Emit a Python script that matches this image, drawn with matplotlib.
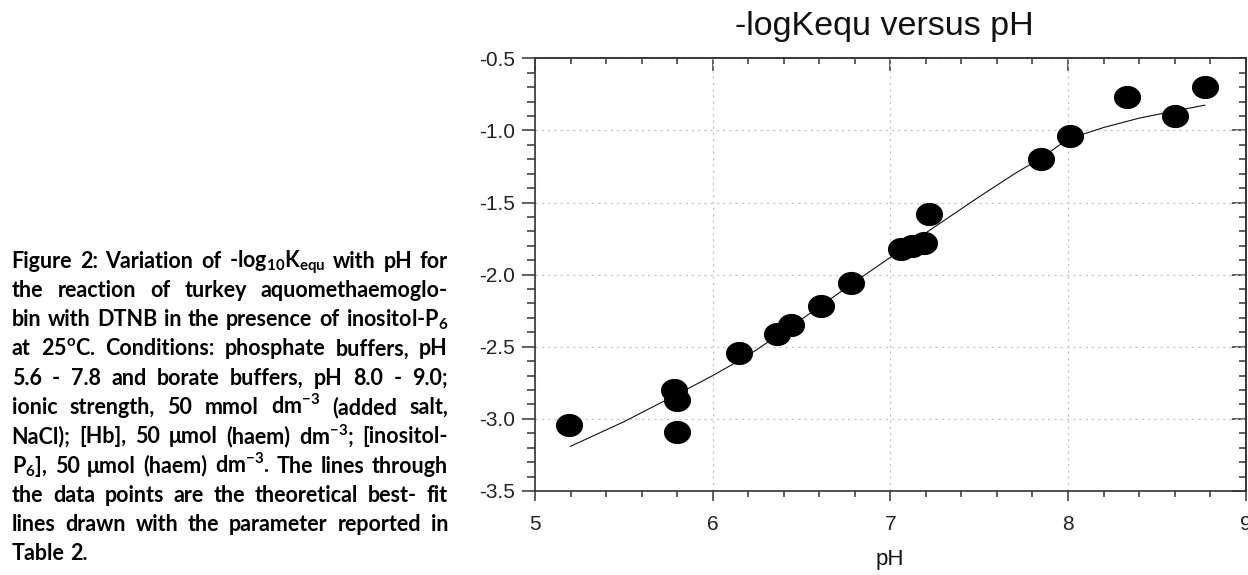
import numpy as np
import matplotlib
matplotlib.use("Agg")
import matplotlib.pyplot as plt
from matplotlib.path import Path
from matplotlib.ticker import MultipleLocator
from matplotlib import font_manager

# ---------------- data ----------------
ph_points = [5.19, 5.78, 5.80, 5.80, 6.15, 6.36, 6.44, 6.61, 6.78,
             7.06, 7.12, 7.19, 7.22, 7.85, 8.01, 8.33, 8.60, 8.77]
logk_points = [-3.04, -2.80, -2.87, -3.09, -2.54, -2.41, -2.35, -2.22, -2.06,
               -1.82, -1.80, -1.78, -1.58, -1.20, -1.04, -0.77, -0.90, -0.70]

ph_fit = [5.20, 5.50, 5.80, 6.00, 6.20, 6.50, 6.80, 7.00, 7.20, 7.50,
          7.70, 7.85, 8.00, 8.20, 8.40, 8.60, 8.77]
logk_fit = [-3.19, -3.02, -2.83, -2.70, -2.56, -2.31, -2.05, -1.88, -1.71, -1.46,
            -1.30, -1.19, -1.06, -0.98, -0.915, -0.865, -0.825]

title = "-logKequ versus pH"
xlabel = "pH"
xticks = [5, 6, 7, 8, 9]
yticks = [-3.5, -3.0, -2.5, -2.0, -1.5, -1.0, -0.5]

caption_lines = [
    r"Figure 2: Variation of -log$_{\mathrm{10}}$K$_{\mathrm{equ}}$ with pH for",
    r"the reaction of turkey aquomethaemoglo-",
    r"bin with DTNB in the presence of inositol-P$_{\mathrm{6}}$",
    r"at 25$^{\mathrm{o}}$C. Conditions: phosphate buffers, pH",
    r"5.6 - 7.8 and borate buffers, pH 8.0 - 9.0;",
    r"ionic strength, 50 mmol dm$^{\mathrm{-3}}$ (added salt,",
    r"NaCl); [Hb], 50 μmol (haem) dm$^{\mathrm{-3}}$; [inositol-",
    r"P$_{\mathrm{6}}$], 50 μmol (haem) dm$^{\mathrm{-3}}$. The lines through",
    r"the data points are the theoretical best- fit",
    r"lines drawn with the parameter reported in",
    r"Table 2.",
]

# ---------------- fonts ----------------
available = {f.name for f in font_manager.fontManager.ttflist}
cap_font = 'Liberation Sans Narrow' if 'Liberation Sans Narrow' in available else 'Lato'
cap_family = [cap_font, 'DejaVu Sans']

plt.rcParams['font.family'] = ['Liberation Sans', 'DejaVu Sans']
plt.rcParams['mathtext.fontset'] = 'custom'
plt.rcParams['mathtext.rm'] = cap_font + ':bold'
plt.rcParams['mathtext.it'] = cap_font + ':bold'
plt.rcParams['mathtext.bf'] = cap_font + ':bold'

W, H = 1248, 575
fig = plt.figure(figsize=(W / 100, H / 100), dpi=100)
fig.patch.set_facecolor('white')

ax_l, ax_r, ax_t, ax_b = 535, 1245.7, 58.3, 491.0
ax = fig.add_axes([ax_l / W, 1 - ax_b / H, (ax_r - ax_l) / W, (ax_b - ax_t) / H])

# elliptical marker (slightly wider than tall, like the reference)
theta = np.linspace(0, 2 * np.pi, 60)
ell = Path(np.column_stack([1.18 * np.cos(theta), np.sin(theta)]))

ax.plot(ph_fit, logk_fit, color='#111111', lw=0.8, zorder=3)
ax.plot(ph_points, logk_points, linestyle='none', marker=ell, ms=18.5,
        color='black', mec='black', zorder=4)

ax.set_xlim(5, 9)
ax.set_ylim(-3.5, -0.5)
ax.set_xticks(xticks)
ax.set_yticks(yticks)
ax.set_yticklabels([f"{v:.1f}" for v in yticks])
ax.xaxis.set_minor_locator(MultipleLocator(0.2))
ax.yaxis.set_minor_locator(MultipleLocator(0.1))
ax.grid(True, which='major', color='#c8c8c8', linestyle=(0, (2.0, 3.0)), lw=0.9)

spine_c = '#333333'
for s in ax.spines.values():
    s.set_color(spine_c)
    s.set_linewidth(1.2)

ax.tick_params(axis='x', which='major', direction='out', length=7, width=1.1,
               color=spine_c, labelsize=15, pad=10, labelcolor='#222222')
ax.tick_params(axis='x', which='minor', direction='out', length=4.5, width=1.1,
               color=spine_c)
ax.tick_params(axis='y', which='major', direction='out', length=9.5, width=1.1,
               color=spine_c, labelsize=15, pad=5, labelcolor='#222222')
ax.tick_params(axis='y', which='minor', direction='out', length=6, width=1.1,
               color=spine_c)

# inward ticks on top and right
secx = ax.secondary_xaxis('top')
secx.set_xticks(xticks)
secx.xaxis.set_minor_locator(MultipleLocator(0.2))
secx.tick_params(which='major', direction='in', length=9, width=1.1,
                 color=spine_c, labeltop=False)
secx.tick_params(which='minor', direction='in', length=4.5, width=1.1, color=spine_c)
secx.spines['top'].set_color(spine_c)
secx.spines['top'].set_linewidth(1.2)

secy = ax.secondary_yaxis('right')
secy.set_yticks(yticks)
secy.yaxis.set_minor_locator(MultipleLocator(0.1))
secy.tick_params(which='major', direction='in', length=10, width=1.1,
                 color=spine_c, labelright=False)
secy.tick_params(which='minor', direction='in', length=5, width=1.1, color=spine_c)
secy.spines['right'].set_color(spine_c)
secy.spines['right'].set_linewidth(1.2)

fig.text(884 / W, 1 - 27 / H, title, ha='center', va='center', fontsize=24.5,
         color='#111111')
fig.text(890 / W, 1 - 560 / H, xlabel, ha='center', va='center', fontsize=16,
         color='#111111')

# ---------------- justified caption ----------------
cap_x0, cap_x1 = 11.7, 448.0
cap_y0, cap_dy = 267.5, 29.3

fig.canvas.draw()
renderer = fig.canvas.get_renderer()


def measure(word, size):
    t = fig.text(0, 0, word, fontsize=size, fontweight='bold', family=cap_family)
    w = t.get_window_extent(renderer).width
    t.remove()
    return w


base_size = 15.5
space_w = measure("a a", base_size) - 2 * measure("a", base_size)
min_gap_frac = 0.6
max_nat = 0
for line in caption_lines[:-1]:
    words = line.split(' ')
    nat = sum(measure(w, base_size) for w in words) + min_gap_frac * space_w * (len(words) - 1)
    max_nat = max(max_nat, nat)
target = cap_x1 - cap_x0
size = base_size * min(1.0, target / max_nat)

for i, line in enumerate(caption_lines):
    words = line.split(' ')
    y = 1 - (cap_y0 + i * cap_dy) / H
    texts = [fig.text(0, y, w, fontsize=size, fontweight='bold', family=cap_family,
                      va='baseline', ha='left', color='black') for w in words]
    widths = [t.get_window_extent(renderer).width for t in texts]
    if i == len(caption_lines) - 1 or len(words) == 1:
        gap = space_w * size / base_size
    else:
        gap = (target - sum(widths)) / (len(words) - 1)
    x = cap_x0
    for t, w in zip(texts, widths):
        t.set_x(x / W)
        x += w + gap

fig.savefig("out.png", dpi=100, facecolor='white')
